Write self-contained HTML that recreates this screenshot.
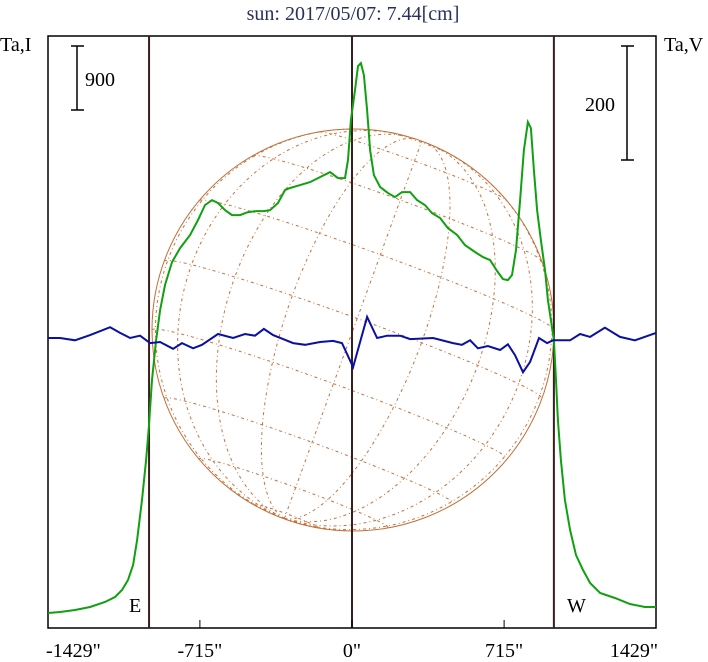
<!DOCTYPE html>
<html><head><meta charset="utf-8"><style>
html,body{margin:0;padding:0;background:#fff;}
svg{display:block;font-family:"Liberation Serif",serif;}
</style></head><body>
<svg id="chart" width="708" height="662" viewBox="0 0 708 662">
<text x="353" y="20" text-anchor="middle" font-size="20" fill="#283060">sun: 2017/05/07: 7.44[cm]</text>
<text x="0" y="51" font-size="20" fill="#000">Ta,I</text>
<text x="664" y="51" font-size="20" fill="#000">Ta,V</text>
<g id="globe"></g>
<g id="frame"></g>
<g id="series"></g>
</svg>
<script>
const xTickValues=[-1429,-715,0,715,1429];
const xTickLabels=['-1429"','-715"','0"','715"','1429"'];
const limbArcsec=[-954,0,949];
const scaleI=900, scaleV=200;
const arcsec=[-1429,-1372,-1302,-1231,-1161,-1114,-1081,-1053,-1029,-1010,-987,-968,-954,-940,-921,-902,-879,-846,-808,-761,-724,-691,-658,-630,-597,-564,-526,-489,-451,-414,-385,-348,-315,-291,-244,-197,-160,-103,-66,-33,-19,-5,14,28,42,56,71,85,103,132,169,202,235,273,306,343,376,414,451,494,531,578,616,649,682,710,733,752,771,790,808,827,841,855,870,888,907,921,935,949,959,968,982,1001,1025,1053,1086,1119,1166,1236,1307,1377,1429];
const intensityI=[0,14,42,84,155,225,323,464,675,1026,1589,2151,2643,3276,3838,4260,4612,4935,5132,5315,5526,5736,5807,5765,5666,5596,5596,5638,5652,5652,5666,5765,5947,5976,6018,6060,6116,6200,6116,6116,6369,6931,7353,7691,7733,7564,7072,6510,6158,5990,5905,5849,5919,5919,5807,5736,5624,5554,5413,5315,5174,5076,5005,4963,4809,4696,4682,4752,5104,5807,6510,6903,6819,6229,5666,5244,4823,4401,4120,3838,3276,2714,2151,1589,1167,815,605,422,281,211,127,84,84];
const arcsecV=[-1429,-1372,-1302,-1231,-1137,-1090,-1043,-996,-949,-902,-841,-799,-747,-705,-630,-559,-503,-456,-414,-371,-324,-277,-221,-150,-89,-47,5,71,118,165,226,273,381,475,517,555,592,639,696,733,766,804,837,879,917,945,1025,1072,1119,1189,1260,1330,1429];
const polarV=[0,0,-4,5,19,9,0,4,-9,-7,-19,-9,-18,-12,7,0,7,4,16,5,-2,-9,-12,-7,-5,-9,-51,37,0,4,4,-2,0,-9,-12,-4,-18,-14,-21,-11,-30,-60,-42,0,-9,-4,-4,7,2,18,2,-4,9];

const NS='http://www.w3.org/2000/svg';
const L=48,R=656,T=36,B=628;
function xs(a){return 352+(a)*(R-L)/2858;}
function yI(v){return 613-v*64/scaleI;}
function yV(v){return 338-v*114/scaleV;}
function mk(parent,tag,attrs){const e=document.createElementNS(NS,tag);for(const k in attrs)e.setAttribute(k,attrs[k]);parent.appendChild(e);return e;}

// globe
const g=document.getElementById('globe');
const cx=353,cy=330,RR=201,th=20*Math.PI/180,B0=-3.5*Math.PI/180;
function proj(lat,lon){const p=lat*Math.PI/180,l=lon*Math.PI/180;
 const x=Math.cos(p)*Math.sin(l),y=Math.sin(p)*Math.cos(B0)-Math.cos(p)*Math.cos(l)*Math.sin(B0),z=Math.sin(p)*Math.sin(B0)+Math.cos(p)*Math.cos(l)*Math.cos(B0);
 return [cx+RR*(x*Math.cos(th)+y*Math.sin(th)),cy-RR*(-x*Math.sin(th)+y*Math.cos(th)),z];}
function drawPts(pts,name){let segs=[],cur=[];pts.forEach(p=>{if(p[2]>=0)cur.push(p[0].toFixed(1)+','+p[1].toFixed(1));else{if(cur.length>1)segs.push(cur);cur=[];}});if(cur.length>1)segs.push(cur);
 segs.forEach(s=>{const e=mk(g,'polyline',{points:s.join(' '),fill:'none',stroke:'#c8703c','stroke-width':1,'stroke-dasharray':'3,3,1,3'});
 
 });}
[-80,-60,-40,-20,0,20,40,60,80].forEach(lat=>{const pts=[];for(let lon=-180;lon<=180;lon+=3)pts.push(proj(lat,lon));drawPts(pts,'parallel-line');});
for(let lon=-180;lon<180;lon+=20){const pts=[];for(let lat=-90;lat<=90;lat+=3)pts.push(proj(lat,lon));drawPts(pts,'meridian-line');}
const limb=mk(g,'circle',{cx:cx,cy:cy,r:RR,fill:'none',stroke:'#c0703a','stroke-width':1});



// frame
const f=document.getElementById('frame');
const box=mk(f,'rect',{x:L,y:T,width:R-L,height:B-T,fill:'none',stroke:'#000','stroke-width':1.5});


limbArcsec.forEach(a=>{const e=mk(f,'line',{x1:xs(a),x2:xs(a),y1:T,y2:B,stroke:'#3a1e1e','stroke-width':2});
 
 });
xTickValues.forEach((v,i)=>{
 if(i>0&&i<xTickValues.length-1){const t=mk(f,'line',{x1:xs(v),x2:xs(v),y1:B,y2:B-8,stroke:'#000','stroke-width':1});
 
 }
 let anchor=i==0?'start':(i==xTickValues.length-1?'end':'middle');
 const tx=mk(f,'text',{x:i==0?L-2:(i==xTickValues.length-1?R+2:xs(v)),y:657,'font-size':20,'text-anchor':anchor,fill:'#000'});
 tx.textContent=xTickLabels[i];
 
 });
function scaleBar(x,y1,y2,label,lx,ly,name){
 const grp=mk(f,'g',{});
 
 
 mk(grp,'line',{x1:x,x2:x,y1:y1,y2:y2,stroke:'#000','stroke-width':1.5});
 mk(grp,'line',{x1:x-6,x2:x+7,y1:y1,y2:y1,stroke:'#000','stroke-width':1.5});
 mk(grp,'line',{x1:x-6,x2:x+7,y1:y2,y2:y2,stroke:'#000','stroke-width':1.5});
 const t=mk(grp,'text',{x:lx,y:ly,'font-size':20,fill:'#000'});t.textContent=label;}
scaleBar(77,46,46+64*scaleI/900,'900',85,86,'intensity-scale-bar');
scaleBar(627,46,46+114*scaleV/200,'200',585,111,'polarization-scale-bar');
const eT=mk(f,'text',{x:129,y:612,'font-size':20,fill:'#000'});eT.textContent='E';


const wT=mk(f,'text',{x:567,y:612,'font-size':20,fill:'#000'});wT.textContent='W';



// series
const s=document.getElementById('series');
const pI=mk(s,'polyline',{points:arcsec.map((a,i)=>xs(a).toFixed(1)+','+yI(intensityI[i]).toFixed(1)).join(' '),fill:'none',stroke:'#10a010','stroke-width':2});


const pV=mk(s,'polyline',{points:arcsecV.map((a,i)=>xs(a).toFixed(1)+','+yV(polarV[i]).toFixed(1)).join(' '),fill:'none',stroke:'#0a10a0','stroke-width':2});


</script>
</body></html>
